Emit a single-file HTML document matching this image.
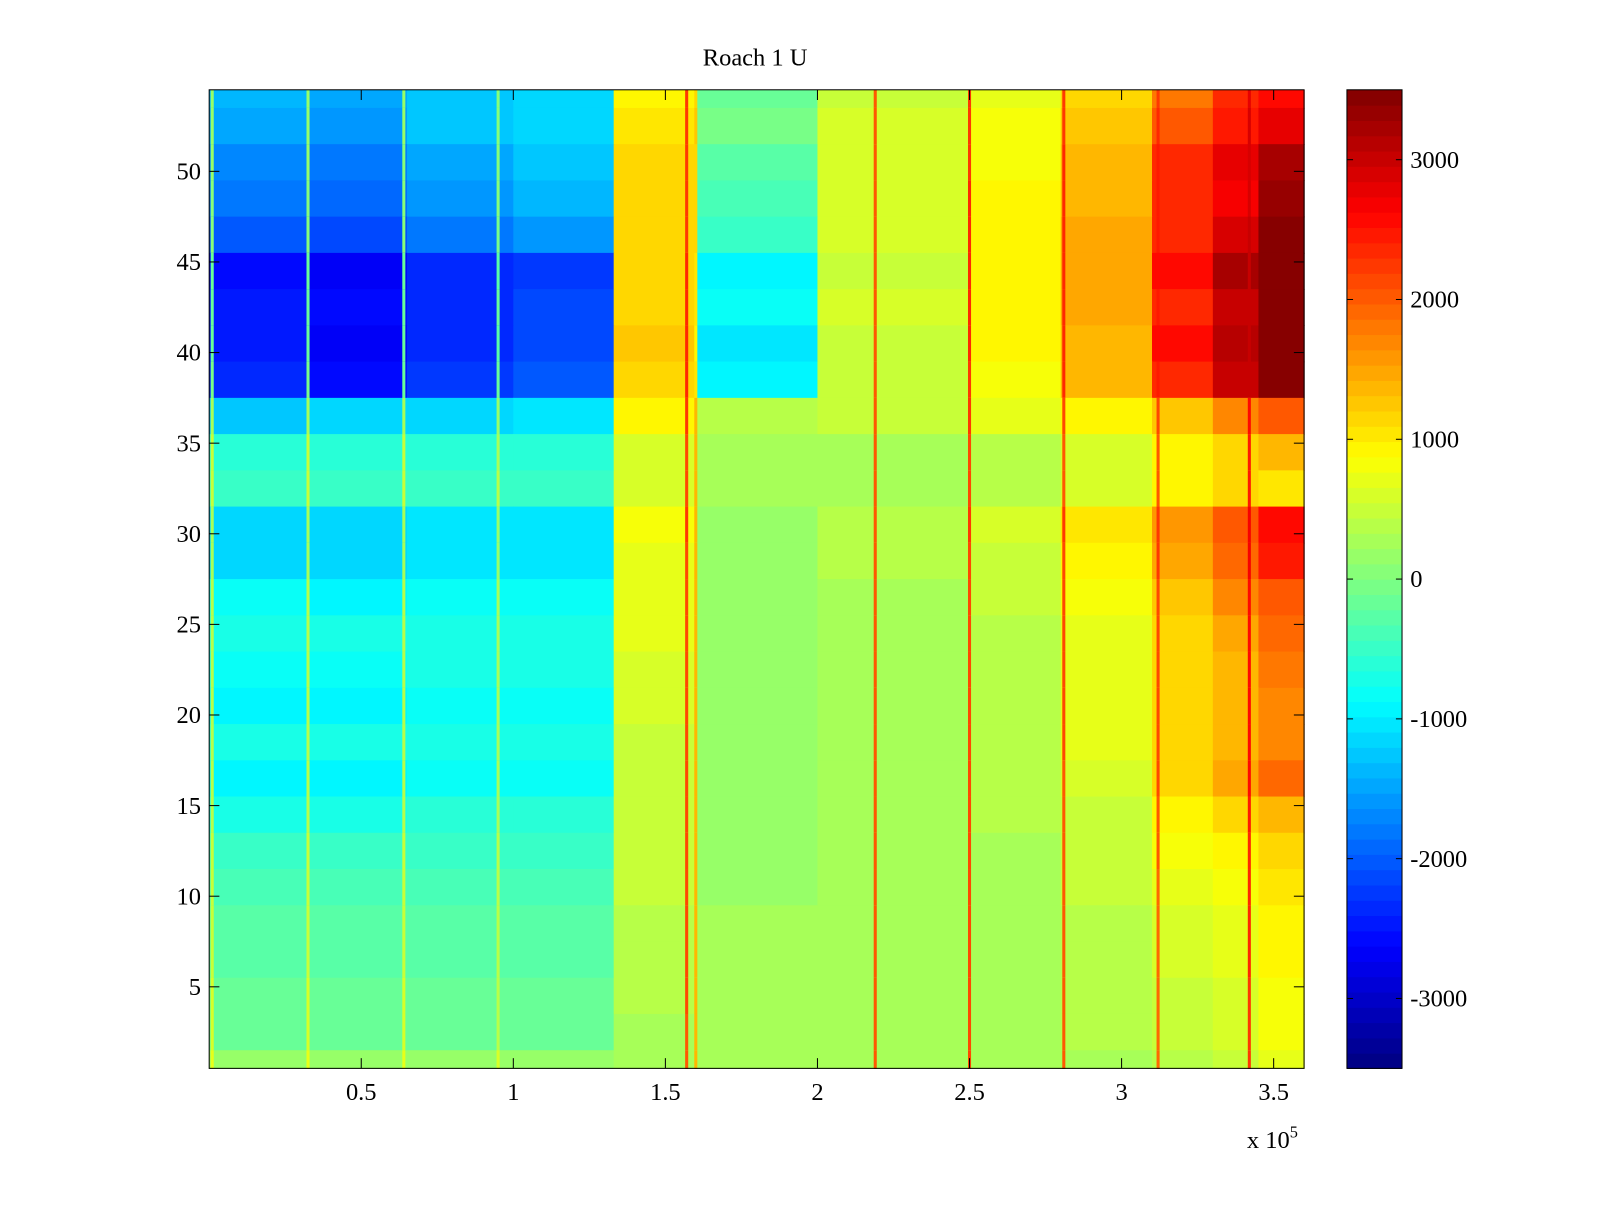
<!DOCTYPE html>
<html><head><meta charset="utf-8"><style>
body{margin:0;background:#fff;}
svg text{font-family:"Liberation Serif",serif;font-size:24px;fill:#000;}
</style></head><body>
<svg id="fig" width="1600" height="1200" xmlns="http://www.w3.org/2000/svg">
<rect width="1600" height="1200" fill="#fff"/>
<g transform="scale(1.0204)">
<text x="740" y="64" text-anchor="middle">Roach 1 U</text>
<g id="cells"></g>
<g id="axes"></g>
<g id="cbar"></g>
<text x="1222" y="1125">x 10<tspan dy="-10" font-size="16">5</tspan></text>
</g>
</svg>
<script>
// x segment boundaries (units of 1e5)
const xEdges = [0,0.33,0.65,1.0,1.33,1.6,2.0,2.5,2.8,3.1,3.3,3.45,3.6];
// row bands [low row, high row]
const bandRows = [[54,54],[52,53],[50,51],[48,49],[46,47],[44,45],[42,43],[40,41],[38,39],[36,37],[34,35],[32,33],[30,31],[28,29],[26,27],[24,25],[22,23],[20,21],[18,19],[16,17],[14,15],[12,13],[10,11],[8,9],[6,7],[4,5],[2,3],[1,1]];
const values = [
[-1400,-1500,-1300,-1100,900,-200,500,700,1100,1800,2300,2600],
[-1500,-1600,-1300,-1100,1000,-100,600,800,1300,2000,2500,2800],
[-1700,-1800,-1500,-1300,1100,-300,600,800,1400,2300,2800,3200],
[-1800,-1900,-1600,-1400,1100,-400,600,900,1400,2300,2700,3300],
[-2000,-2100,-1800,-1600,1100,-500,600,900,1500,2400,2900,3400],
[-2600,-2700,-2400,-2200,1200,-900,500,900,1500,2600,3200,3500],
[-2500,-2600,-2300,-2100,1200,-800,600,900,1500,2400,3000,3500],
[-2500,-2700,-2400,-2100,1300,-1000,500,900,1400,2600,3100,3500],
[-2300,-2600,-2200,-2000,1200,-900,500,800,1400,2400,3000,3500],
[-1300,-1200,-1100,-1000,900,400,500,700,900,1300,1700,2000],
[-600,-600,-600,-600,600,300,300,400,600,900,1200,1400],
[-500,-500,-500,-500,600,300,300,400,600,900,1100,1000],
[-1100,-1200,-1000,-1000,800,200,400,600,1000,1600,2000,2600],
[-1100,-1200,-1000,-1000,700,200,400,500,900,1500,1900,2500],
[-800,-900,-800,-800,700,200,300,500,800,1300,1700,2000],
[-700,-700,-700,-700,700,200,300,400,700,1200,1500,1900],
[-800,-800,-700,-700,600,200,300,400,700,1100,1400,1800],
[-900,-900,-800,-800,600,200,300,400,700,1100,1400,1700],
[-700,-700,-700,-700,500,200,300,400,700,1100,1400,1700],
[-900,-900,-800,-800,500,200,300,400,600,1100,1500,1900],
[-700,-700,-600,-600,500,200,300,400,500,900,1100,1400],
[-500,-500,-500,-500,500,200,300,300,500,800,900,1100],
[-400,-400,-400,-400,500,200,300,300,500,700,800,1000],
[-300,-300,-300,-300,400,300,300,300,400,600,700,900],
[-300,-300,-300,-300,400,300,300,300,400,600,700,900],
[-200,-200,-200,-200,400,300,300,300,400,500,600,800],
[-200,-200,-200,-200,300,300,300,300,400,500,600,800],
[200,200,200,200,300,300,300,300,300,400,500,700]
];
// vertical spike events
const spikeX = [0.01,0.325,0.64,0.95,1.57,1.6,2.19,2.5,2.81,3.12,3.42];
const spikeV = [900,900,900,700,2800,1800,2700,2900,2700,2500,3000];
const xTicks = [0.5,1,1.5,2,2.5,3,3.5];
const xTickLabels = ['0.5','1','1.5','2','2.5','3','3.5'];
const yTicks = [5,10,15,20,25,30,35,40,45,50];
const cTicks = [-3000,-2000,-1000,0,1000,2000,3000];

const L=205,R=1278,T=88,B=1047;
const X0=0,X1=3.6,Y0=0.5,Y1=54.5,C0=-3500,C1=3500;
const sx=v=>L+(v-X0)/(X1-X0)*(R-L);
const sy=v=>B-(v-Y0)/(Y1-Y0)*(B-T);
function jet(v){
  let t=(v-C0)/(C1-C0); t=Math.max(0,Math.min(1,t));
  t=(Math.min(63,Math.floor(t*64))+0.5)/64;
  const c=x=>Math.round(255*Math.max(0,Math.min(1,1.5-Math.abs(x))));
  return `rgb(${c(4*t-3)},${c(4*t-2)},${c(4*t-1)})`;
}
const NS='http://www.w3.org/2000/svg';
function mk(tag,attrs,parent){const e=document.createElementNS(NS,tag);for(const k in attrs)e.setAttribute(k,attrs[k]);parent.appendChild(e);return e;}
const cells=document.getElementById('cells');
bandRows.forEach((br,i)=>{
  const y1=sy(br[1]+0.5),y2=sy(br[0]-0.5);
  for(let j=0;j<xEdges.length-1;j++){
    const x1=sx(xEdges[j]),x2=sx(xEdges[j+1]);
    const r=mk('rect',{x:x1,y:y1,width:x2-x1+0.6,height:y2-y1+0.6,fill:jet(values[i][j])},cells);
    
    
  }
  spikeX.forEach((xs,k)=>{
    let j=0; while(j<xEdges.length-2 && xs>=xEdges[j+1]) j++;
    const base=values[i][j];
    const v=base+0.7*(spikeV[k]-base);
    const s=mk('rect',{x:sx(xs)-1.5,y:y1,width:3,height:y2-y1+0.6,fill:jet(v)},cells);
    
    
  });
});
const ax=document.getElementById('axes');
mk('rect',{x:L,y:T,width:R-L,height:B-T,fill:'none',stroke:'#000','stroke-width':1},ax);
xTicks.forEach((v,i)=>{
  const x=sx(v);
  mk('line',{x1:x,y1:B,x2:x,y2:B-10,stroke:'#000'},ax);
  mk('line',{x1:x,y1:T,x2:x,y2:T+10,stroke:'#000'},ax);
  const t=mk('text',{x:x,y:B+31,'text-anchor':'middle'},ax);t.textContent=xTickLabels[i];
  
  
});
yTicks.forEach(v=>{
  const y=sy(v);
  mk('line',{x1:L,y1:y,x2:L+10,y2:y,stroke:'#000'},ax);
  mk('line',{x1:R,y1:y,x2:R-10,y2:y,stroke:'#000'},ax);
  const t=mk('text',{x:L-8,y:y+8,'text-anchor':'end'},ax);t.textContent=v;
  
  
});
const cb=document.getElementById('cbar');
const CL=1320,CR=1374;
const cy=v=>B-(v-C0)/(C1-C0)*(B-T);
for(let k=0;k<64;k++){
  const v0=C0+k*(C1-C0)/64,v1=C0+(k+1)*(C1-C0)/64;
  const r=mk('rect',{x:CL,y:cy(v1),width:CR-CL,height:cy(v0)-cy(v1)+0.6,fill:jet((v0+v1)/2)},cb);
  
  
}
mk('rect',{x:CL,y:T,width:CR-CL,height:B-T,fill:'none',stroke:'#000'},cb);
cTicks.forEach(v=>{
  const y=cy(v);
  mk('line',{x1:CL,y1:y,x2:CL+6,y2:y,stroke:'#000'},cb);
  mk('line',{x1:CR,y1:y,x2:CR-6,y2:y,stroke:'#000'},cb);
  const t=mk('text',{x:CR+8,y:y+8},cb);t.textContent=v;
  
  
});
</script>
</body></html>
